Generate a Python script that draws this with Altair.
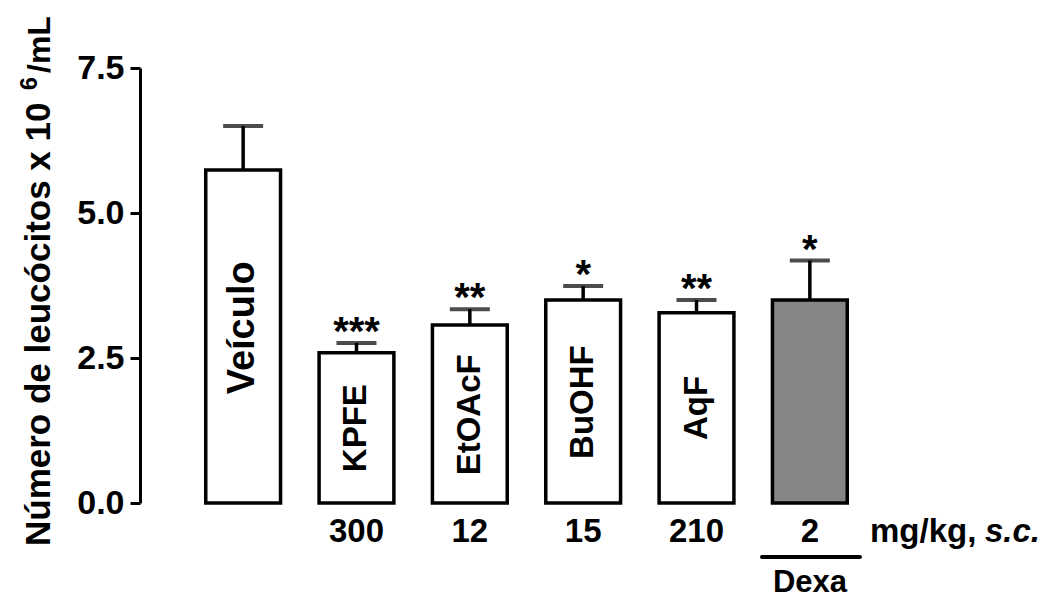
import altair as alt
import pandas as pd

groups = ["Veículo", "KPFE", "EtOAcF", "BuOHF", "AqF", "Dexa"]
means = [5.74, 2.59, 3.07, 3.50, 3.28, 3.50]
err_top = [6.50, 2.76, 3.34, 3.74, 3.50, 4.18]
stars = ["", "***", "**", "*", "**", "*"]
doses = ["", "300", "12", "15", "210", "2"]
bar_labels = ["Veículo", "KPFE", "EtOAcF", "BuOHF", "AqF", ""]
label_center = [3.02, 1.29, 1.52, 1.74, 1.64, 0.0]
y_ticks = [0.0, 2.5, 5.0, 7.5]
title_main = "Número de leucócitos x 10"
title_sup = "6"
title_end = "/mL"

df = pd.DataFrame({
    "group": groups, "mean": means, "err": err_top, "star": stars,
    "dose": doses, "label": bar_labels, "lab_y": label_center,
})

W, H = 773, 435
FONT = "Liberation Sans"

x = alt.X("group:N", sort=groups, axis=None,
          scale=alt.Scale(paddingInner=0.34, paddingOuter=0.58))
y_scale = alt.Scale(domain=[0, 7.5], nice=False, zero=True)
y_axis = alt.Axis(values=y_ticks, format=".1f", grid=False, title=None,
                  labelFont=FONT, labelFontSize=34, labelFontWeight="bold",
                  labelColor="black", labelPadding=6,
                  tickSize=10, tickWidth=3, tickColor="black",
                  domainWidth=3, domainColor="black")

base = alt.Chart(df)

err_line = base.mark_rule(color="black", strokeWidth=3.5).encode(
    x=x, y=alt.Y("mean:Q", scale=y_scale, axis=y_axis), y2="err:Q")
err_cap = base.mark_tick(color="black", size=40, thickness=4).encode(
    x=x, y=alt.Y("err:Q", scale=y_scale))

bars = base.mark_bar(stroke="black", strokeWidth=3.5).encode(
    x=x, y=alt.Y("mean:Q", scale=y_scale),
    fill=alt.condition(alt.datum.group == "Dexa", alt.value("#858585"), alt.value("white")))

labels_big = base.transform_filter(alt.datum.group == "Veículo").mark_text(
    angle=270, font=FONT, fontWeight="bold", fontSize=38, color="black",
    align="center", baseline="middle").encode(
    x=x, y=alt.Y("lab_y:Q", scale=y_scale), text="label:N")
labels_small = base.transform_filter(
    (alt.datum.group != "Veículo") & (alt.datum.group != "Dexa")).mark_text(
    angle=270, font=FONT, fontWeight="bold", fontSize=33, color="black",
    align="center", baseline="middle").encode(
    x=x, y=alt.Y("lab_y:Q", scale=y_scale), text="label:N")

star_text = base.mark_text(font=FONT, fontWeight="bold", fontSize=40,
                           color="black", align="center", baseline="alphabetic",
                           dy=2).encode(
    x=x, y=alt.Y("err:Q", scale=y_scale), text="star:N")

dose_text = base.mark_text(font=FONT, fontWeight="bold", fontSize=33,
                           color="black", align="center", baseline="middle").encode(
    x=x, y=alt.value(H + 29), text="dose:N")

unit1 = alt.Chart(pd.DataFrame({"t": ["mg/kg,"]})).mark_text(
    font=FONT, fontWeight="bold", fontSize=33, color="black",
    align="left", baseline="middle").encode(
    x=alt.value(730), y=alt.value(H + 29), text="t:N")
unit2 = alt.Chart(pd.DataFrame({"t": ["s.c."]})).mark_text(
    font=FONT, fontWeight="bold", fontStyle="italic", fontSize=33, color="black",
    align="left", baseline="middle").encode(
    x=alt.value(845), y=alt.value(H + 29), text="t:N")

dexa_line = alt.Chart(pd.DataFrame({"a": [0]})).mark_rule(
    color="black", strokeWidth=4, strokeCap="round").encode(
    x=alt.value(622), x2=alt.value(720), y=alt.value(H + 54))
dexa_text = alt.Chart(pd.DataFrame({"t": ["Dexa"]})).mark_text(
    font=FONT, fontWeight="bold", fontSize=31, color="black",
    align="center", baseline="alphabetic").encode(
    x=alt.value(670), y=alt.value(H + 89), text="t:N")

t1 = alt.Chart(pd.DataFrame({"t": [title_main]})).mark_text(
    angle=270, font=FONT, fontWeight="bold", fontSize=35, color="black",
    align="left", baseline="alphabetic").encode(
    x=alt.value(-90), y=alt.value(478), text="t:N")
t2 = alt.Chart(pd.DataFrame({"t": [title_sup]})).mark_text(
    angle=270, font=FONT, fontWeight="bold", fontSize=23, color="black",
    align="left", baseline="alphabetic").encode(
    x=alt.value(-103), y=alt.value(22), text="t:N")
t3 = alt.Chart(pd.DataFrame({"t": [title_end]})).mark_text(
    angle=270, font=FONT, fontWeight="bold", fontSize=32, color="black",
    align="left", baseline="alphabetic").encode(
    x=alt.value(-90), y=alt.value(5), text="t:N")

chart = alt.layer(
    err_line, err_cap, bars, labels_big, labels_small, star_text, dose_text,
    unit1, unit2, dexa_line, dexa_text, t1, t2, t3
).properties(
    width=W, height=H,
    autosize=alt.AutoSizeParams(type="none"),
    padding={"left": 132, "top": 60, "right": 134, "bottom": 97},
    background="white",
).configure_view(stroke=None)

chart.save("out.html", embed_options={"renderer": "svg", "actions": False})
